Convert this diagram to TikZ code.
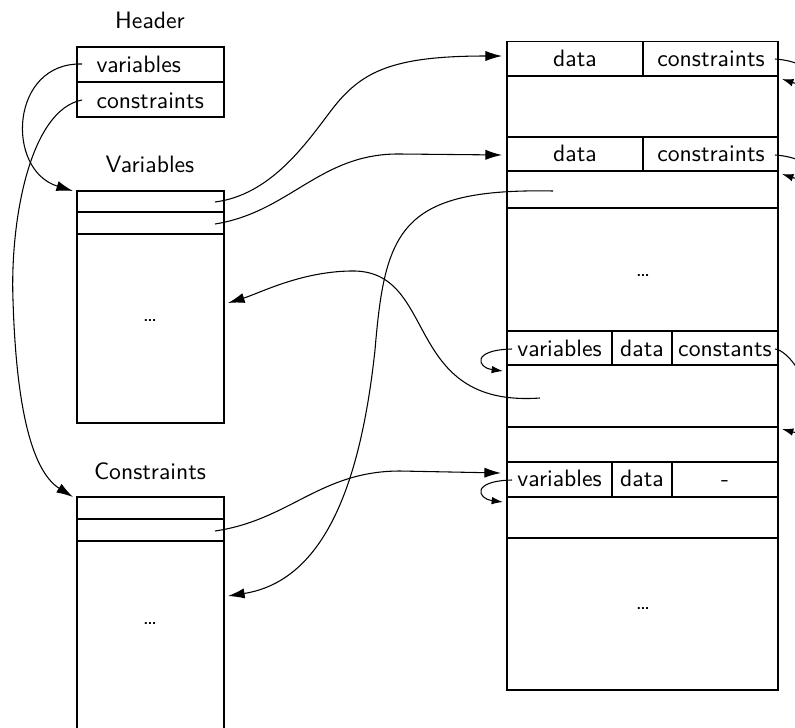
\documentclass[tikz,border=0pt]{standalone}
\usetikzlibrary{arrows.meta}
\begin{document}
\begin{tikzpicture}[x=0.4219pt,y=-0.4219pt,font=\sffamily,line width=0.45pt]
\tikzset{
  lbl/.style={anchor=base,inner sep=0pt},
  conn/.style={-{Latex[length=7pt,width=4.3pt]}},
  loopc/.style={-{Latex[length=4.8pt,width=3.2pt]}},
}
\useasboundingbox (0,0) rectangle (795,727);
\clip (0,0) rectangle (795,727);

% ---------- Header ----------
\node[lbl] (hdr) at (150,28.3) {Header};
\draw (77,47) rectangle (224,117);
\draw (77,82) -- (224,82);
\node[lbl,anchor=base west] (hv) at (96,72) {variables};
\node[lbl,anchor=base west] (hc) at (96,108) {constraints};
\coordinate (hvs) at (82,64);
\coordinate (hcs) at (82,100);

% ---------- Variables ----------
\node[lbl] (vlbl) at (150,172.7) {Variables};
\draw (77,191) rectangle (224,423);
\draw (77,212) -- (224,212) (77,234) -- (224,234);
\node[lbl] (vdots) at (150,321) {\dots};
\coordinate (v1) at (215,202);
\coordinate (v2) at (215,224);
\coordinate (vtop) at (73,191);
\coordinate (vin) at (228,303);

% ---------- Constraints ----------
\node[lbl] (clbl) at (150,479) {Constraints};
\draw (77,760) -- (77,497) -- (224,497) -- (224,760);
\draw (77,519) -- (224,519) (77,541) -- (224,541);
\node[lbl] (cdots) at (150,624) {\dots};
\coordinate (c2) at (215,531);
\coordinate (ctop) at (73,497);
\coordinate (cin) at (228,596);

% ---------- Right storage ----------
\draw (507,41.5) rectangle (778,690);
\foreach \yy in {76,137,171,208,331,365,427,462,497,538}
  \draw (507,\yy) -- (778,\yy);
\draw (643,41.5) -- (643,76) (643,137) -- (643,171);
\draw (612,331) -- (612,365) (672,331) -- (672,365);
\draw (612,462) -- (612,497) (672,462) -- (672,497);

\node[lbl] (d1) at (575,66) {data};
\node[lbl] (k1) at (711,66) {constraints};
\node[lbl] (d2) at (575,161.7) {data};
\node[lbl] (k2) at (711,161.7) {constraints};
\node[lbl] (cv1) at (559.5,356) {variables};
\node[lbl] (cd1) at (642,356) {data};
\node[lbl] (cc1) at (725,356) {constants};
\node[lbl] (cv2) at (559.5,486.7) {variables};
\node[lbl] (cd2) at (642,486.7) {data};
\node[lbl] (cc2) at (725,486.7) {-};
\node[lbl] (rdots1) at (643,276) {\dots};
\node[lbl] (rdots2) at (643,609) {\dots};

\coordinate (r1in) at (502,56);
\coordinate (r2in) at (502,155);
\coordinate (r3in) at (501,473);
\coordinate (rs1) at (553,191);
\coordinate (rs2) at (540,398);
\coordinate (cr1) at (775,59);
\coordinate (cr1in) at (782,79);
\coordinate (cr2) at (775,155);
\coordinate (cr2in) at (782,174);
\coordinate (kst) at (775,349);
\coordinate (kin) at (782,429);
\coordinate (lv1) at (512,349);
\coordinate (lv1in) at (503,371);
\coordinate (lv2) at (512,480);
\coordinate (lv2in) at (503,502);

% ---------- Connectors ----------
\draw[conn] (hvs) .. controls (10,62) and (5,170) .. (vtop);
\draw[conn] (hcs) .. controls (30,110) and (10,220) .. (13,300)
                  .. controls (16,400) and (30,470) .. (ctop);
\draw[conn] (v1) .. controls (270,195) and (305,145) .. (330,112)
                 .. controls (360,72) and (390,56) .. (r1in);
\draw[conn] (v2) .. controls (290,212) and (320,153) .. (400,154) -- (r2in);
\draw[conn] (c2) .. controls (290,520) and (320,471) .. (400,471) -- (r3in);
\draw[conn] (rs1) .. controls (400,188) and (385,230) .. (375,350)
                  .. controls (362,470) and (330,580) .. (cin);
\draw[conn] (rs2) .. controls (400,408) and (440,268) .. (350,271)
                  .. controls (300,272) and (260,293) .. (vin);
\draw[loopc] (cr1) .. controls (820,62) and (830,95) .. (cr1in);
\draw[loopc] (cr2) .. controls (820,158) and (830,190) .. (cr2in);
\draw[loopc] (kst) .. controls (800,352) and (840,445) .. (kin);
\draw[loopc] (lv1) .. controls (470,350) and (478,368) .. (lv1in);
\draw[loopc] (lv2) .. controls (470,481) and (478,499) .. (lv2in);
\end{tikzpicture}
\end{document}
